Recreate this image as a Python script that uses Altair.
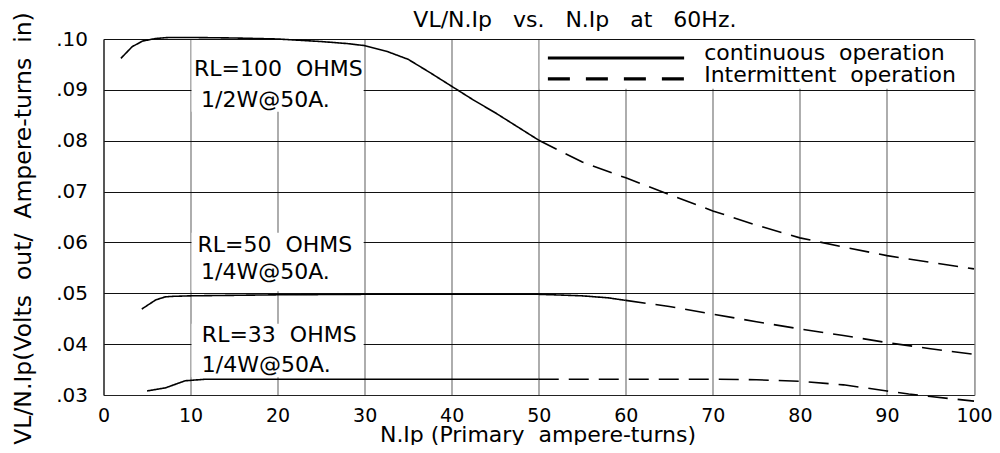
import altair as alt
import pandas as pd

FONT = "DejaVu Sans"
SP2 = "\u00a0\u00a0"
SP3 = "\u00a0\u00a0\u00a0"

# ---------------- data ----------------
x_ticks = [0, 10, 20, 30, 40, 50, 60, 70, 80, 90, 100]
y_ticks = [0.03, 0.04, 0.05, 0.06, 0.07, 0.08, 0.09, 0.10]

# RL = 100 ohms
r100_cont_x = [2, 3.3, 4.5, 6, 7.5, 10, 15, 20, 25, 28, 30, 32.5, 35, 37.5, 40, 42.5, 45, 47.5, 50]
r100_cont_y = [0.0962, 0.0985, 0.0996, 0.1001, 0.1003, 0.1003, 0.1002, 0.1000, 0.0995, 0.0991,
               0.0987, 0.0976, 0.0960, 0.0934, 0.0907, 0.0880, 0.0855, 0.0828, 0.0801]
r100_int_x = [50, 55, 60, 65, 70, 75, 80, 85, 90, 95, 100]
r100_int_y = [0.0801, 0.0758, 0.0727, 0.0694, 0.0662, 0.0634, 0.0609, 0.0591, 0.0574, 0.0561, 0.0548]

# RL = 50 ohms
r50_cont_x = [4.4, 6, 7.1, 8, 10, 20, 30, 40, 50, 55, 58, 60]
r50_cont_y = [0.0469, 0.0487, 0.0493, 0.0494, 0.0495, 0.0497, 0.0498, 0.0498, 0.0498, 0.0495, 0.0491, 0.0486]
r50_int_x = [60, 62.5, 65, 70, 75, 80, 85, 90, 95, 100]
r50_int_y = [0.0486, 0.0480, 0.0474, 0.0459, 0.0444, 0.0430, 0.0417, 0.0403, 0.0391, 0.0380]

# RL = 33 ohms
r33_cont_x = [5, 7.1, 9.4, 11.7, 20, 30, 40, 50]
r33_cont_y = [0.0308, 0.0314, 0.0328, 0.0331, 0.0331, 0.0331, 0.0331, 0.0331]
r33_int_x = [50, 60, 70, 75, 80, 85, 90, 92.5, 95, 100]
r33_int_y = [0.0331, 0.0331, 0.0331, 0.0330, 0.0327, 0.0320, 0.0308, 0.0302, 0.0297, 0.0288]

# chart title and annotation labels
title_text = ["VL/N.Ip" + SP3 + "vs." + SP3 + "N.Ip" + SP3 + "at" + SP3 + "60Hz."]
title_x = [54.15]
title_y = [0.10236]

ann_text = ["RL=100" + SP2 + "OHMS", "1/2W@50A.", "RL=50" + SP2 + "OHMS", "1/4W@50A.",
            "RL=33" + SP2 + "OHMS", "1/4W@50A."]
ann_x = [10.4, 11.2, 10.8, 11.2, 11.3, 11.3]
ann_y = [0.09273, 0.08657, 0.05812, 0.05275, 0.04042, 0.03458]

# white label boxes (label areas + legend area)
box_x0 = [10, 10, 10, 50]
box_x1 = [30, 30, 30, 100]
box_ytop = [0.10, 0.0621, 0.0442, 0.10]
box_ybot = [0.0855, 0.0502, 0.0333, 0.09]

# legend
leg_style = ["continuous", "intermittent"]
leg_label = ["continuous" + SP2 + "operation", "Intermittent" + SP2 + "operation"]
leg_x0 = [51.05, 51.05]
leg_x1 = [66.7, 66.7]
leg_line_y = [0.09626, 0.09214]
leg_text_x = [69.0, 69.0]
leg_text_y = [0.09587, 0.09160]

# ---------------- tables ----------------
rows = []
def add(series, style, xs, ys):
    for a, b in zip(xs, ys):
        rows.append({"series": series, "style": style, "seg": f"{series}-{style}", "x": a, "y": b})

add("100", "continuous", r100_cont_x, r100_cont_y)
add("100", "intermittent", r100_int_x, r100_int_y)
add("50", "continuous", r50_cont_x, r50_cont_y)
add("50", "intermittent", r50_int_x, r50_int_y)
add("33", "continuous", r33_cont_x, r33_cont_y)
add("33", "intermittent", r33_int_x, r33_int_y)
curves = pd.DataFrame(rows)

boxes = pd.DataFrame({"x0": box_x0, "x1": box_x1, "yt": box_ytop, "yb": box_ybot})
ann = pd.DataFrame({"t": ann_text, "x": ann_x, "y": ann_y})
ttl = pd.DataFrame({"t": title_text, "x": title_x, "y": title_y})
leg = pd.DataFrame({"style": leg_style, "label": leg_label, "x0": leg_x0, "x1": leg_x1,
                    "ly": leg_line_y, "tx": leg_text_x, "ty": leg_text_y})

# ---------------- scales / axes ----------------
xs = alt.Scale(domain=[0, 100], nice=False, zero=False)
ys = alt.Scale(domain=[0.03, 0.10], nice=False, zero=False)

x_axis = alt.Axis(values=x_ticks, grid=True, gridColor="#777777", gridWidth=1.2, ticks=False,
                  domainColor="#222222", domainWidth=1.2,
                  labelFont=FONT, labelFontSize=19, labelColor="black", labelPadding=11,
                  labelFlush=False, labelOverlap=False,
                  title="N.Ip (Primary" + SP2 + "ampere-turns)", titleFont=FONT, titleFontSize=22,
                  titleFontWeight="normal", titleColor="black", titleX=434, titleY=46,
                  titleBaseline="alphabetic", titleAlign="center")
y_axis = alt.Axis(values=y_ticks, grid=True, gridColor="#111111", gridWidth=1, ticks=False,
                  domainColor="#222222", domainWidth=1.2,
                  labelExpr="replace(format(datum.value, '.2f'), '0.', '.')",
                  labelFont=FONT, labelFontSize=20, labelColor="black", labelPadding=16,
                  labelOverlap=False,
                  title="VL/N.Ip(Volts" + SP2 + "out/" + SP2 + "Ampere-turns" + SP2 + "in)",
                  titleFont=FONT, titleFontSize=23.5,
                  titleFontWeight="normal", titleColor="black", titleX=-80.5, titleY=189,
                  titleBaseline="middle", titleAlign="center", titleAngle=270)


def X(field):
    return alt.X(field, scale=xs, axis=x_axis)


def Y(field):
    return alt.Y(field, scale=ys, axis=y_axis)


box_layer = alt.Chart(boxes).mark_rect(color="white", xOffset=1, x2Offset=-1, yOffset=1, y2Offset=-1).encode(
    x=X("x0:Q"), x2="x1:Q", y=Y("yt:Q"), y2="yb:Q",
)

curve_layer = alt.Chart(curves).mark_line(color="black", strokeWidth=1.6).encode(
    x=X("x:Q"), y=Y("y:Q"),
    detail="seg:N",
    order="x:Q",
    strokeDash=alt.StrokeDash("style:N", scale=alt.Scale(domain=["continuous", "intermittent"],
                                                        range=[[1, 0], [20, 10]]), legend=None),
)

ann_layer = alt.Chart(ann).mark_text(
    align="left", baseline="alphabetic", font=FONT, fontSize=22, color="black").encode(
    x=X("x:Q"), y=Y("y:Q"), text="t:N",
)
title_layer = alt.Chart(ttl).mark_text(
    align="center", baseline="alphabetic", font=FONT, fontSize=22, color="black").encode(
    x=X("x:Q"), y=Y("y:Q"), text="t:N",
)

leg_solid = alt.Chart(leg).transform_filter(alt.datum.style == "continuous").mark_rule(
    color="black", strokeWidth=3.2).encode(
    x=X("x0:Q"), x2="x1:Q", y=Y("ly:Q"),
)
leg_dash = alt.Chart(leg).transform_filter(alt.datum.style == "intermittent").mark_rule(
    color="black", strokeWidth=3.2, strokeDash=[22, 16]).encode(
    x=X("x0:Q"), x2="x1:Q", y=Y("ly:Q"),
)
leg_text = alt.Chart(leg).mark_text(align="left", baseline="alphabetic", font=FONT, fontSize=22,
                                    color="black").encode(
    x=X("tx:Q"), y=Y("ty:Q"), text="label:N",
)

chart = alt.layer(box_layer, curve_layer, ann_layer, title_layer, leg_solid, leg_dash, leg_text).properties(
    width=870.5,
    height=356,
    padding={"left": 95.5, "top": 31, "right": 18, "bottom": 50},
    autosize=alt.AutoSizeParams(type="none"),
).configure_view(strokeWidth=0).configure(background="white")

chart.save("out.html", embed_options={"renderer": "svg", "actions": False})
